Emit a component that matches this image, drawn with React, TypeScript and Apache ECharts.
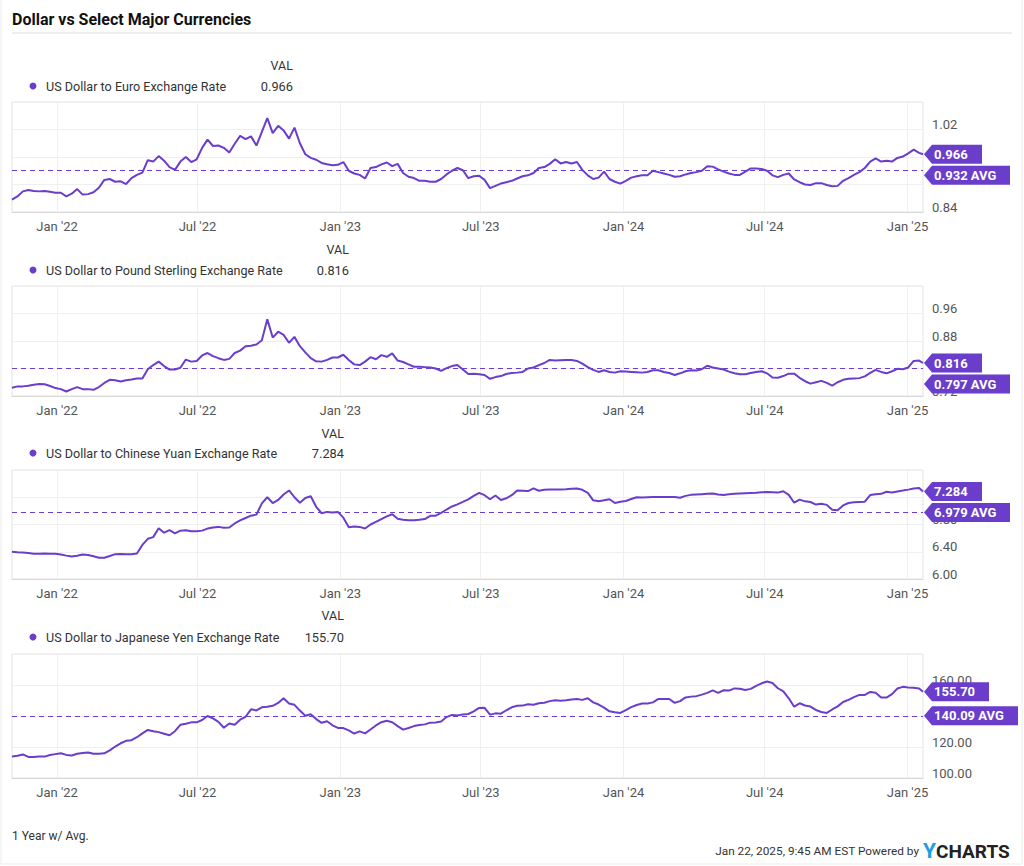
import React, { useEffect, useRef } from 'react';
import * as echarts from 'echarts';

const TITLE = 'Dollar vs Select Major Currencies';
const FOOTER_LEFT = '1 Year w/ Avg.';
const FOOTER_RIGHT = 'Jan 22, 2025, 9:45 AM EST Powered by';
const SERIES_NAMES = [
  'US Dollar to Euro Exchange Rate',
  'US Dollar to Pound Sterling Exchange Rate',
  'US Dollar to Chinese Yuan Exchange Rate',
  'US Dollar to Japanese Yen Exchange Rate',
];
const START_DATE = '2021-11-04';
const LAST_DATE = '2025-01-21';
const AXIS_MIN = '2021-11-04';
const AXIS_MAX = '2025-01-21';
const TICK_DATES = ['2022-01-01', '2022-07-01', '2023-01-01', '2023-07-01', '2024-01-01', '2024-07-01', '2025-01-01'];
const MONTHS = ['Jan', 'Feb', 'Mar', 'Apr', 'May', 'Jun', 'Jul', 'Aug', 'Sep', 'Oct', 'Nov', 'Dec'];

// weekly samples from 2021-11-04, last sample 2025-01-21
const EUR = [
  0.867, 0.874, 0.885, 0.888, 0.886, 0.885, 0.886, 0.884, 0.882, 0.882,
  0.874, 0.880, 0.890, 0.878, 0.879, 0.883, 0.893, 0.910, 0.912, 0.906,
  0.907, 0.901, 0.914, 0.921, 0.926, 0.953, 0.950, 0.962, 0.952, 0.938,
  0.932, 0.950, 0.960, 0.949, 0.955, 0.980, 0.998, 0.984, 0.985, 0.980,
  0.970, 0.989, 1.006, 0.999, 1.005, 0.985, 1.015, 1.045, 1.012, 1.028,
  1.018, 1.000, 1.024, 0.990, 0.966, 0.958, 0.954, 0.947, 0.944, 0.942,
  0.943, 0.949, 0.930, 0.924, 0.921, 0.913, 0.936, 0.938, 0.944, 0.948,
  0.940, 0.945, 0.925, 0.917, 0.914, 0.908, 0.908, 0.906, 0.906, 0.912,
  0.922, 0.930, 0.936, 0.931, 0.914, 0.918, 0.919, 0.910, 0.892, 0.897,
  0.902, 0.905, 0.908, 0.913, 0.918, 0.920, 0.925, 0.936, 0.938, 0.945,
  0.955, 0.946, 0.949, 0.946, 0.949, 0.932, 0.920, 0.912, 0.915, 0.928,
  0.912, 0.906, 0.902, 0.908, 0.915, 0.918, 0.920, 0.920, 0.930, 0.927,
  0.924, 0.921, 0.917, 0.918, 0.922, 0.925, 0.927, 0.930, 0.940, 0.939,
  0.933, 0.928, 0.924, 0.921, 0.921, 0.928, 0.935, 0.935, 0.934, 0.930,
  0.920, 0.916, 0.921, 0.924, 0.911, 0.905, 0.900, 0.899, 0.903, 0.903,
  0.899, 0.896, 0.897, 0.908, 0.914, 0.921, 0.927, 0.936, 0.950, 0.957,
  0.950, 0.952, 0.950, 0.958, 0.961, 0.968, 0.976, 0.969, 0.966,
];
const GBP = [
  0.744, 0.748, 0.748, 0.750, 0.753, 0.755, 0.754, 0.749, 0.743, 0.740,
  0.733, 0.740, 0.746, 0.740, 0.740, 0.738, 0.746, 0.758, 0.767, 0.766,
  0.762, 0.766, 0.768, 0.771, 0.771, 0.798, 0.810, 0.820, 0.807, 0.797,
  0.797, 0.802, 0.826, 0.820, 0.822, 0.838, 0.845, 0.836, 0.830, 0.825,
  0.828, 0.845, 0.852, 0.865, 0.866, 0.870, 0.882, 0.943, 0.890, 0.907,
  0.898, 0.875, 0.892, 0.865, 0.847, 0.830, 0.821, 0.820, 0.825, 0.832,
  0.832, 0.840, 0.825, 0.812, 0.810, 0.820, 0.833, 0.827, 0.839, 0.834,
  0.844, 0.823, 0.819, 0.812, 0.805, 0.805, 0.804, 0.803, 0.800, 0.793,
  0.801, 0.807, 0.810, 0.797, 0.784, 0.785, 0.783, 0.781, 0.770, 0.775,
  0.778, 0.784, 0.787, 0.788, 0.790, 0.800, 0.803, 0.810, 0.816, 0.825,
  0.823, 0.824, 0.825, 0.825, 0.822, 0.814, 0.804, 0.796, 0.790, 0.795,
  0.790, 0.788, 0.792, 0.791, 0.790, 0.789, 0.788, 0.790, 0.795, 0.795,
  0.790, 0.787, 0.781, 0.786, 0.792, 0.795, 0.794, 0.798, 0.808, 0.803,
  0.800, 0.797, 0.791, 0.786, 0.783, 0.783, 0.787, 0.790, 0.792, 0.786,
  0.774, 0.773, 0.778, 0.785, 0.785, 0.773, 0.763, 0.756, 0.760, 0.764,
  0.758, 0.750, 0.760, 0.767, 0.770, 0.771, 0.772, 0.777, 0.787, 0.796,
  0.790, 0.786, 0.792, 0.799, 0.798, 0.803, 0.822, 0.823, 0.816,
];
const CNY = [
  6.400, 6.392, 6.388, 6.382, 6.370, 6.372, 6.376, 6.372, 6.370, 6.360,
  6.343, 6.330, 6.340, 6.360, 6.352, 6.335, 6.312, 6.312, 6.338, 6.365,
  6.366, 6.362, 6.365, 6.375, 6.500, 6.590, 6.615, 6.745, 6.680, 6.717,
  6.670, 6.710, 6.717, 6.700, 6.700, 6.710, 6.740, 6.755, 6.765, 6.751,
  6.755, 6.815, 6.860, 6.895, 6.930, 6.945, 7.110, 7.200, 7.115, 7.160,
  7.240, 7.300, 7.200, 7.120, 7.190, 7.215, 7.060, 6.965, 6.985, 6.976,
  6.985, 6.900, 6.760, 6.770, 6.765, 6.742, 6.800, 6.840, 6.880, 6.920,
  6.950, 6.885, 6.870, 6.863, 6.863, 6.870, 6.880, 6.927, 6.930, 6.970,
  7.020, 7.065, 7.095, 7.132, 7.170, 7.220, 7.265, 7.230, 7.170, 7.225,
  7.160, 7.185, 7.230, 7.300, 7.295, 7.290, 7.330, 7.295, 7.310, 7.315,
  7.312, 7.315, 7.318, 7.325, 7.327, 7.310, 7.265, 7.155, 7.142, 7.156,
  7.170, 7.115, 7.135, 7.145, 7.175, 7.200, 7.195, 7.200, 7.205, 7.205,
  7.205, 7.205, 7.205, 7.192, 7.220, 7.235, 7.240, 7.245, 7.250, 7.254,
  7.240, 7.232, 7.243, 7.250, 7.254, 7.258, 7.262, 7.266, 7.272, 7.276,
  7.272, 7.268, 7.288, 7.235, 7.120, 7.165, 7.140, 7.130, 7.093, 7.105,
  7.088, 7.015, 7.010, 7.080, 7.115, 7.125, 7.132, 7.135, 7.232, 7.244,
  7.250, 7.280, 7.270, 7.285, 7.298, 7.312, 7.327, 7.337, 7.284,
];
const JPY = [
  113.8, 114.3, 115.2, 113.6, 113.6, 113.8, 113.8, 114.8, 115.4, 116.0,
  114.9, 114.5, 115.6, 116.2, 116.4, 115.6, 115.6, 115.9, 117.8, 120.3,
  122.4, 124.0, 124.4, 126.3, 128.8, 131.0, 130.2, 129.6, 128.6, 127.6,
  130.2, 134.3, 135.0, 135.9, 135.9, 137.4, 140.0, 138.5, 136.2, 132.4,
  135.2, 134.3, 137.6, 139.5, 144.3, 143.6, 145.6, 146.0, 146.6, 148.4,
  151.5, 148.1, 147.2, 143.5, 140.2, 141.1, 138.0, 135.6, 136.6, 134.0,
  132.3, 132.2, 130.7, 128.7, 130.1, 128.8, 131.3, 133.9, 136.0, 136.9,
  136.0, 133.5, 131.2, 132.3, 133.5, 134.2, 134.6, 135.7, 135.8, 136.5,
  139.3, 140.7, 140.4, 140.9, 141.3, 143.0, 145.2, 145.3, 140.9, 141.7,
  141.5, 143.7, 145.6, 146.6, 146.7, 147.6, 147.3, 148.2, 148.6, 149.6,
  150.2, 149.9, 150.1, 150.6, 150.9, 150.4, 151.5, 148.8, 147.4, 145.4,
  143.0, 142.4, 142.0, 143.8, 145.7, 147.1, 148.1, 148.1, 148.8, 151.0,
  151.0, 151.0, 148.5, 149.6, 152.0, 152.5, 152.8, 153.8, 154.9, 156.5,
  154.9, 156.6, 156.4, 157.8, 157.6, 156.8, 157.5, 159.4, 161.1, 162.3,
  161.3, 157.9, 155.9, 151.4, 146.0, 148.2, 146.8, 146.1, 143.9, 142.6,
  142.0, 144.2, 146.2, 149.0, 150.4, 152.2, 153.6, 153.6, 155.5, 155.0,
  152.0, 151.9, 154.1, 157.7, 158.8, 158.4, 158.3, 157.8, 155.70,
];
const AVERAGES = [0.932, 0.797, 6.979, 140.09];
const VALUE_DECIMALS = [3, 3, 3, 2];
const Y_MIN = [0.84, 0.72, 6.0, 100];
const Y_MAX = [1.08, 1.04, 7.6, 180];
const Y_INTERVAL = [0.06, 0.08, 0.4, 20];

// layout
const GRID_TOP = [102, 286, 470, 654];
const GRID_HEIGHT = [110, 110, 109, 124];
const LEGEND_Y = [86, 270, 453, 637];
const VAL_Y = [65, 249, 433, 615];
const VAL_RIGHT = [293, 349, 344, 344];
const FLAG_H = 19;

const PURPLE = '#6a3dcb';
const FONT = 'Roboto, "Noto Sans", sans-serif';
const DAY = 86400000;

const ALL_VALUES = [EUR, GBP, CNY, JPY];

function ts(d: string) {
  return Date.parse(d + 'T00:00:00Z');
}

function measure(text: string, font: string) {
  const c = document.createElement('canvas').getContext('2d');
  if (!c) return text.length * 7.5;
  c.font = font;
  return c.measureText(text).width;
}

function flagItem(coord: number[], text: string, dy: number) {
  const w = Math.round(measure(text, 'bold 13px Roboto') + 24);
  return {
    coord,
    symbol: `path://M0,9.5L8,0L${w},0L${w},19L8,19Z`,
    symbolSize: [w, FLAG_H],
    symbolKeepAspect: false,
    symbolOffset: [w / 2 + 1, dy],
    itemStyle: { color: PURPLE },
    label: {
      show: true,
      position: 'insideLeft',
      distance: 10,
      formatter: text,
      color: '#fff',
      fontWeight: 'bold',
      fontSize: 13,
      fontFamily: FONT,
    },
  };
}

function buildOption(avgOffsets: number[], hidden: number[][]) {
  const startTs = ts(START_DATE);
  const lastTs = ts(LAST_DATE);
  const tickTs = TICK_DATES.map(ts);
  const fmt = (v: number) => {
    const d = new Date(v);
    return MONTHS[d.getUTCMonth()] + " '" + String(d.getUTCFullYear()).slice(2);
  };

  const grids: any[] = [];
  const xAxes: any[] = [];
  const yAxes: any[] = [];
  const series: any[] = [];
  const graphics: any[] = [];

  ALL_VALUES.forEach((vals, i) => {
    const dates = vals.map((_, j) => (j < vals.length - 1 ? startTs + j * 7 * DAY : lastTs));
    const last = vals[vals.length - 1];
    const lastText = last.toFixed(VALUE_DECIMALS[i]);
    const avgText = AVERAGES[i].toFixed(VALUE_DECIMALS[i]) + ' AVG';
    const hid = hidden[i] || [];

    grids.push({
      left: 12,
      top: GRID_TOP[i],
      width: 911,
      height: GRID_HEIGHT[i],
      show: true,
      borderColor: '#e3e3e3',
      borderWidth: 1,
      outerBoundsMode: 'none',
      containLabel: false,
    });
    xAxes.push({
      type: 'value',
      gridIndex: i,
      min: ts(AXIS_MIN),
      max: ts(AXIS_MAX),
      axisLine: { show: true, onZero: false, lineStyle: { color: '#d8d8d8', width: 1 } },
      axisTick: { show: false, customValues: tickTs },
      axisLabel: {
        customValues: tickTs,
        formatter: fmt,
        color: '#555',
        fontSize: 13,
        fontFamily: FONT,
        margin: 8,
      },
      splitLine: { show: true, lineStyle: { color: '#efefef', width: 1 } },
    });
    yAxes.push({
      type: 'value',
      gridIndex: i,
      position: 'right',
      min: Y_MIN[i],
      max: Y_MAX[i],
      interval: Y_INTERVAL[i],
      axisLine: { show: false },
      axisTick: { show: false },
      axisLabel: {
        color: '#555',
        fontSize: 13,
        fontFamily: FONT,
        margin: 9,
        verticalAlign: 'bottom',
        lineHeight: 10,
        showMaxLabel: false,
        formatter: (v: number) =>
          hid.some((h) => Math.abs(h - v) < Y_INTERVAL[i] * 1e-3) ? '' : v.toFixed(2),
      },
      splitLine: { show: true, lineStyle: { color: '#efefef', width: 1 } },
    });
    series.push({
      type: 'line',
      name: SERIES_NAMES[i],
      xAxisIndex: i,
      yAxisIndex: i,
      data: dates.map((d, j) => [d, vals[j]]),
      showSymbol: false,
      symbol: 'none',
      clip: false,
      silent: true,
      z: 3,
      lineStyle: { color: PURPLE, width: 2 },
      itemStyle: { color: PURPLE },
      markLine: {
        silent: true,
        symbol: 'none',
        label: { show: false },
        lineStyle: { color: PURPLE, type: [5, 4], width: 1.2 },
        data: [{ yAxis: AVERAGES[i] }],
      },
      markPoint: {
        silent: true,
        z: 5,
        data: [flagItem([lastTs, last], lastText, 0), flagItem([lastTs, AVERAGES[i]], avgText, avgOffsets[i])],
      },
    });

    graphics.push(
      {
        type: 'text',
        x: VAL_RIGHT[i],
        y: VAL_Y[i],
        style: { text: 'VAL', fill: '#333', fontSize: 12.5, fontFamily: FONT, align: 'right', verticalAlign: 'middle' },
      },
      {
        type: 'circle',
        shape: { cx: 33, cy: LEGEND_Y[i], r: 3.5 },
        style: { fill: PURPLE },
      },
      {
        type: 'text',
        x: 46,
        y: LEGEND_Y[i],
        style: { text: SERIES_NAMES[i], fill: '#333', fontSize: 12.6, fontFamily: FONT, align: 'left', verticalAlign: 'middle' },
      },
      {
        type: 'text',
        x: VAL_RIGHT[i],
        y: LEGEND_Y[i],
        style: { text: lastText, fill: '#333', fontSize: 12.8, fontFamily: FONT, align: 'right', verticalAlign: 'middle' },
      }
    );
  });

  graphics.push(
    {
      type: 'rect',
      shape: { x: 1, y: -2, width: 1021, height: 866 },
      style: { fill: 'none', stroke: '#ececec', lineWidth: 1 },
      silent: true,
    },
    {
      type: 'text',
      x: 12,
      y: 19,
      style: { text: TITLE, fill: '#111', fontSize: 16, fontWeight: 'bold', fontFamily: FONT, align: 'left', verticalAlign: 'middle' },
    },
    {
      type: 'line',
      shape: { x1: 12, y1: 33, x2: 1012, y2: 33 },
      style: { stroke: '#e8e8e8', lineWidth: 1.5 },
    },
    {
      type: 'text',
      x: 12,
      y: 836,
      style: { text: FOOTER_LEFT, fill: '#333', fontSize: 12, fontFamily: FONT, align: 'left', verticalAlign: 'middle' },
    },
    {
      type: 'text',
      x: 919,
      y: 851,
      style: { text: FOOTER_RIGHT, fill: '#333', fontSize: 11.8, fontFamily: FONT, align: 'right', verticalAlign: 'middle' },
    },
    {
      type: 'text',
      x: 923,
      y: 851,
      style: {
        text: '{y|Y}{c|CHARTS}',
        align: 'left',
        verticalAlign: 'middle',
        rich: {
          y: { fill: '#1c9de3', fontSize: 21, fontWeight: 'bold', fontFamily: FONT },
          c: { fill: '#222', fontSize: 19, fontWeight: 'bold', fontFamily: FONT },
        },
      },
    }
  );

  return {
    animation: false,
    backgroundColor: '#fff',
    grid: grids,
    xAxis: xAxes,
    yAxis: yAxes,
    series,
    graphic: graphics,
  };
}

export default function App() {
  const ref = useRef<HTMLDivElement>(null);
  useEffect(() => {
    if (!ref.current) return;
    const chart = echarts.init(ref.current, undefined, { renderer: 'svg' });
    chart.setOption(buildOption([0, 0, 0, 0], [[], [], [], []]));
    const gap = FLAG_H + 2;
    const half = FLAG_H / 2;
    const offsets: number[] = [];
    const hidden: number[][] = [];
    ALL_VALUES.forEach((vals, i) => {
      const px = (v: number) => chart.convertToPixel({ yAxisIndex: i } as any, v) as number;
      const yv = px(vals[vals.length - 1]);
      const ya = px(AVERAGES[i]);
      const d = ya - yv;
      let off = 0;
      if (isFinite(d) && Math.abs(d) < gap) off = d >= 0 ? gap - d : -(gap + d);
      offsets.push(off);
      // flag bands (pixel) - labels fully hidden behind them are left out
      const bands = [
        [yv - half, yv + half],
        [ya + off - half, ya + off + half],
      ].sort((a, b) => a[0] - b[0]);
      if (bands[1][0] - bands[0][1] <= 2.5) bands.push([bands[0][0], bands[1][1]]);
      const hid: number[] = [];
      const n = Math.round((Y_MAX[i] - Y_MIN[i]) / Y_INTERVAL[i]);
      for (let k = 0; k <= n; k++) {
        const t = Y_MIN[i] + k * Y_INTERVAL[i];
        const p = px(t);
        const g0 = p - 9.5;
        const g1 = p - 0.5;
        if (bands.some((b) => g0 >= b[0] && g1 <= b[1])) hid.push(t);
      }
      hidden.push(hid);
    });
    chart.setOption(buildOption(offsets, hidden), { notMerge: true });
    return () => chart.dispose();
  }, []);
  return (
    <div
      ref={ref}
      style={{ position: 'absolute', left: 0, top: 0, width: 1024, height: 866, background: '#fff' }}
    />
  );
}
